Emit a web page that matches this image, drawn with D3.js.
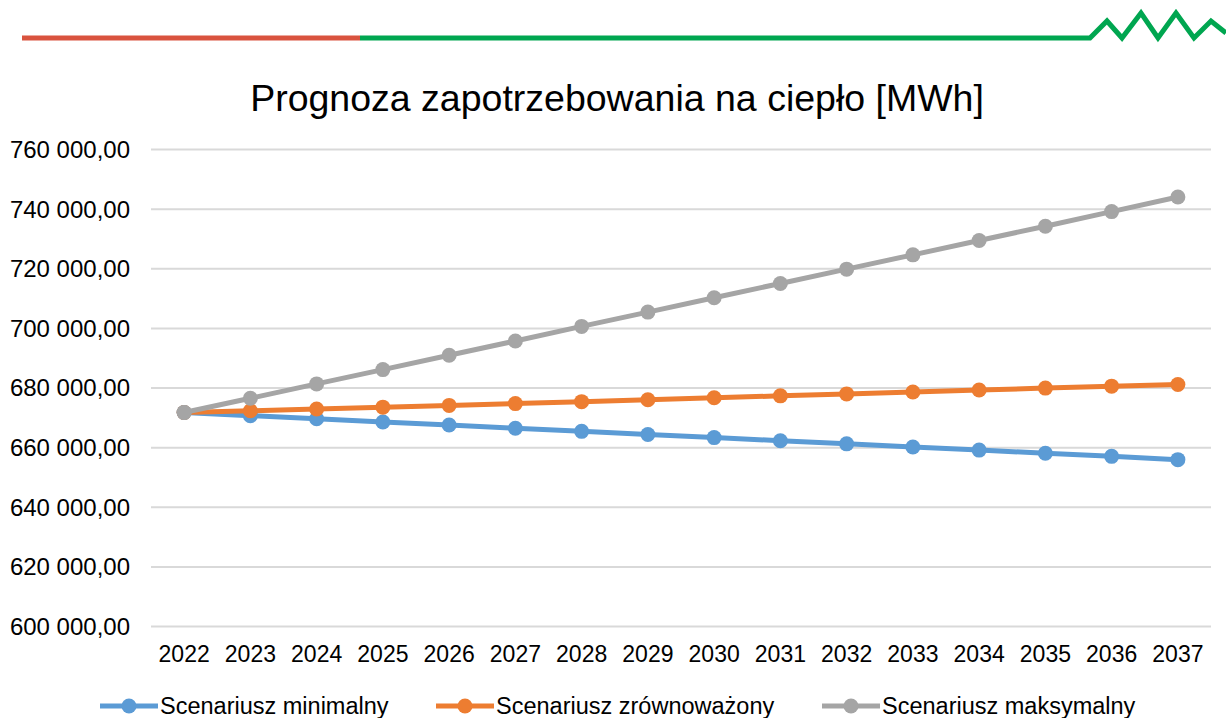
<!DOCTYPE html>
<html>
<head>
<meta charset="utf-8">
<script src="https://cdn.jsdelivr.net/npm/d3@7"></script>
<style>
body { margin:0; background:#fff; }
text { font-family: "Liberation Sans", Arial, sans-serif; fill:#000; }
</style>
</head>
<body>
<svg id="chart" width="1226" height="718"></svg>
<script>
var years = [2022,2023,2024,2025,2026,2027,2028,2029,2030,2031,2032,2033,2034,2035,2036,2037];
var minimalny = [671600,670550,669500,668450,667400,666350,665300,664250,663200,662150,661100,660050,659000,657950,656900,655800];
var zrownowazony = [671600,672200,672800,673400,674000,674600,675250,675900,676550,677200,677850,678500,679150,679800,680450,681000];
var maksymalny = [671600,676400,681200,686000,690800,695600,700500,705300,710100,714900,719700,724500,729300,734100,739000,743900];
var yTicks = [600000,620000,640000,660000,680000,700000,720000,740000,760000];
var seriesNames = ["Scenariusz minimalny","Scenariusz zrównoważony","Scenariusz maksymalny"];
var colors = ["#5b9bd5","#ed7d31","#a5a5a5"];

var svg = d3.select("#chart");

// top banner
svg.append("line").attr("x1",22).attr("x2",360).attr("y1",38).attr("y2",38)
	.attr("stroke","#d9533e").attr("stroke-width",5)
svg.append("path")
	.attr("d","M360,38 L1090,38 L1107,21 L1122,38 L1141,13 L1158,38 L1176,13 L1194,38 L1211,21 L1226,33")
	.attr("fill","none").attr("stroke","#00a650").attr("stroke-width",5).attr("stroke-linejoin","miter")

svg.append("text").attr("x",617).attr("y",111).attr("text-anchor","middle")
	.style("font-size","37.5px").text("Prognoza zapotrzebowania na ciepło [MWh]")

var x = d3.scaleBand().domain(years).range([151,1211])
var y = d3.scaleLinear().domain([600000,760000]).range([626,149])

var fmt = function(v) { return d3.format(",.2f")(v).replace(/,/g," ").replace(".",","); }

var yAxis = svg.append("g").attr("transform","translate(151,0)")
	.call(d3.axisLeft(y).tickValues(yTicks).tickSize(-1060).tickPadding(21).tickFormat(fmt))
yAxis.select(".domain").remove()
yAxis.selectAll("line").attr("stroke","#d9d9d9").attr("stroke-width",2)
yAxis.selectAll("text").style("font-size","24px").attr("dy","0.35em")

var xAxis = svg.append("g").attr("transform","translate(0,626)")
	.call(d3.axisBottom(x).tickSize(0).tickPadding(20))
xAxis.select(".domain").remove()
xAxis.selectAll("text").style("font-size","23px")

var data = [minimalny, zrownowazony, maksymalny]
var line = d3.line()
	.x(function(d,i) { return x(years[i]) + x.bandwidth()/2 })
	.y(function(d) { return y(d) })

data.forEach(function(s, k) {
	svg.append("path").attr("d", line(s))
		.attr("fill","none").attr("stroke",colors[k]).attr("stroke-width",5).attr("stroke-linejoin","round")
	svg.append("g").selectAll("circle").data(s).enter().append("circle")
		.attr("cx", function(d,i) { return x(years[i]) + x.bandwidth()/2 })
		.attr("cy", function(d) { return y(d) })
		.attr("r", 7.5)
		.attr("fill", colors[k])
})
// first point: grey drawn on top in reference
svg.append("circle").attr("cx", x(years[0]) + x.bandwidth()/2).attr("cy", y(maksymalny[0])).attr("r",7.5).attr("fill",colors[2])

var legendX = [100, 436, 822]
var legend = svg.append("g").selectAll("g").data(seriesNames).enter().append("g")
	.attr("transform", function(d,i) { return "translate(" + legendX[i] + ",706)" })
legend.append("line").attr("x1",0).attr("x2",58).attr("y1",0).attr("y2",0)
	.attr("stroke", function(d,i) { return colors[i] }).attr("stroke-width",5)
legend.append("circle").attr("cx",29).attr("cy",0).attr("r",7.5)
	.attr("fill", function(d,i) { return colors[i] })
legend.append("text").attr("x",60).attr("y",8).style("font-size","23.5px")
	.text(function(d) { return d })
</script>
</body>
</html>
